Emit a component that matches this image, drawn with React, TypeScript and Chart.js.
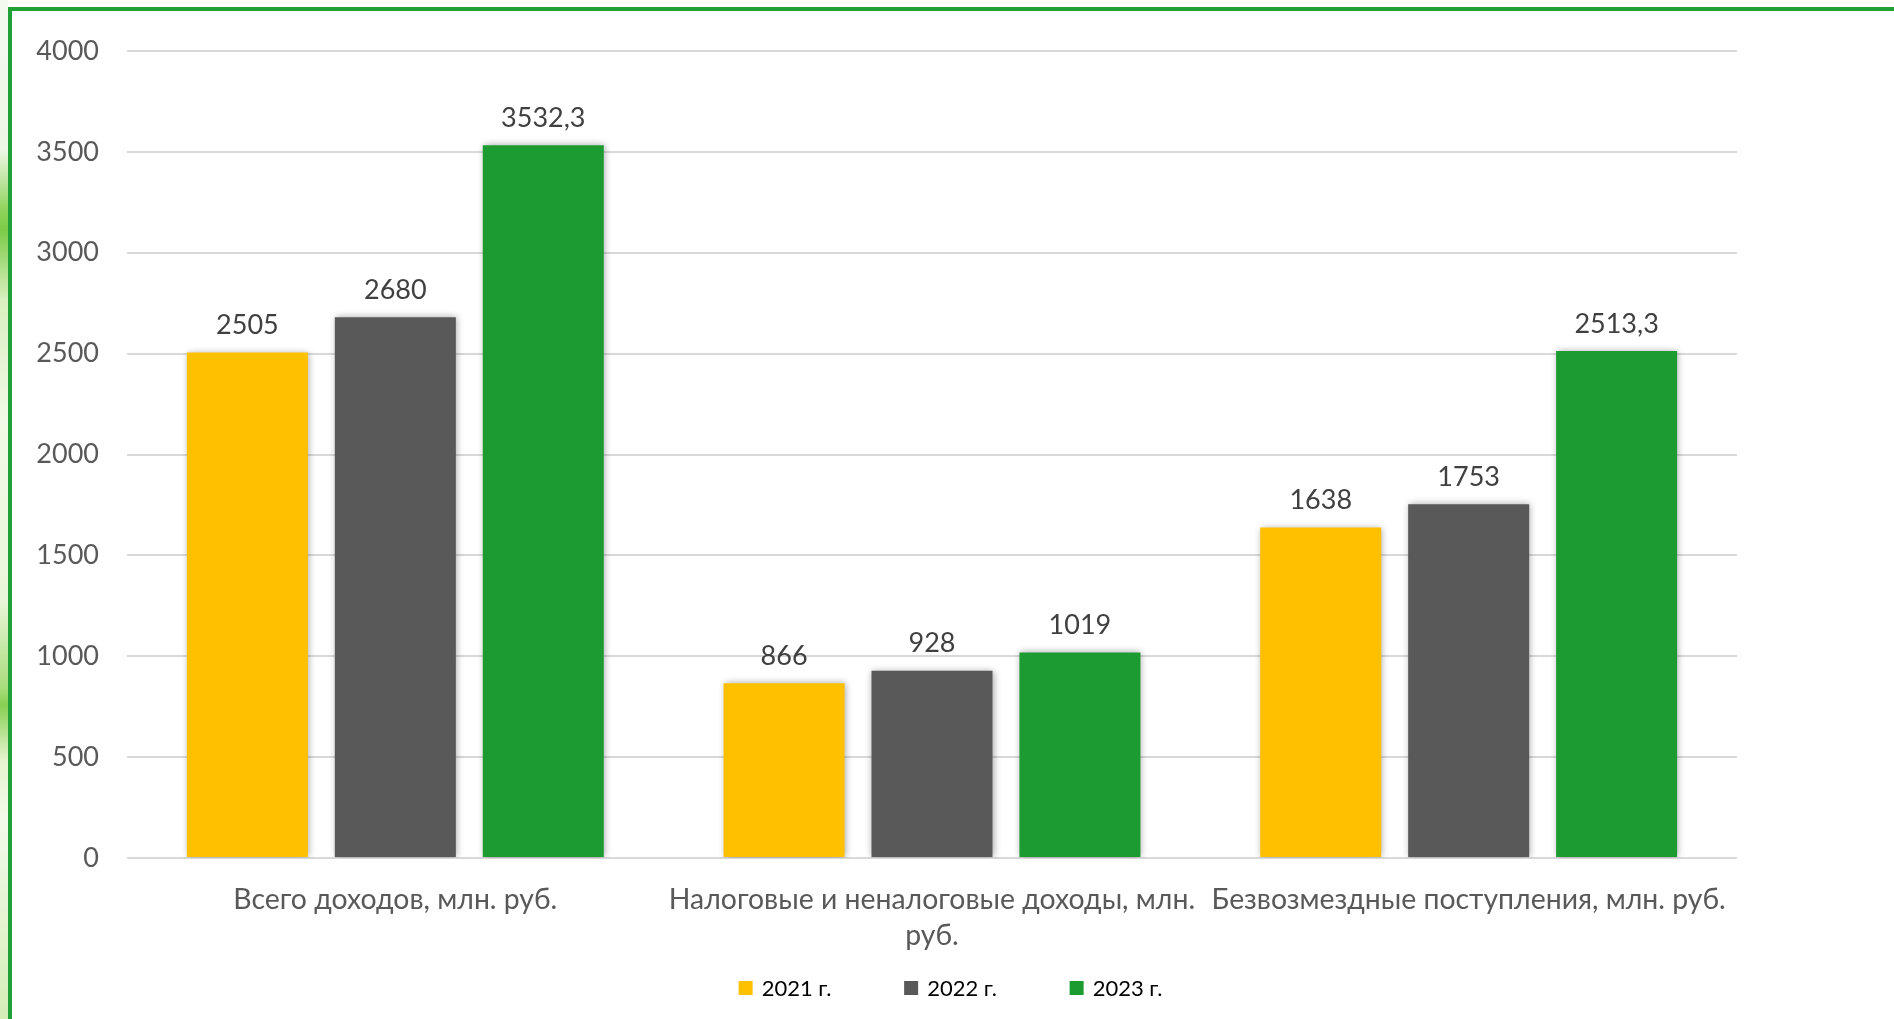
import React, { useEffect, useRef } from "react";
import { Chart, registerables } from "chart.js";

Chart.register(...registerables);

const categories: (string | string[])[] = [
  "Всего доходов, млн. руб.",
  ["Налоговые и неналоговые доходы, млн.", "руб."],
  "Безвозмездные поступления, млн. руб.",
];
const seriesLabels = ["2021 г.", "2022 г.", "2023 г."];
const values2021 = [2505, 866, 1638];
const values2022 = [2680, 928, 1753];
const values2023 = [3532.3, 1019, 2513.3];
const seriesColors = ["#FFC000", "#595959", "#1C9C30"];
const yTicks = [0, 500, 1000, 1500, 2000, 2500, 3000, 3500, 4000];

const FONT = "Lato, 'Open Sans', 'Noto Sans', sans-serif";

const shadowAndLabels = {
  id: "shadowAndLabels",
  beforeDatasetsDraw(chart: any) {
    const ctx = chart.ctx;
    ctx.save();
    ctx.shadowColor = "rgba(0,0,0,0.35)";
    ctx.shadowBlur = 7;
    ctx.shadowOffsetX = 1;
    ctx.shadowOffsetY = 0;
  },
  afterDatasetsDraw(chart: any) {
    const ctx = chart.ctx;
    ctx.restore();
    ctx.save();
    ctx.font = `27px ${FONT}`;
    ctx.fillStyle = "#404040";
    ctx.textAlign = "center";
    ctx.textBaseline = "middle";
    chart.data.datasets.forEach((ds: any, di: number) => {
      const meta = chart.getDatasetMeta(di);
      meta.data.forEach((bar: any, i: number) => {
        const txt = String(ds.data[i]).replace(".", ",");
        ctx.fillText(txt, bar.x, bar.y - 27);
      });
    });
    ctx.restore();
  },
  afterDraw(chart: any) {
    const ctx = chart.ctx;
    ctx.save();
    ctx.font = `22px ${FONT}`;
    ctx.textBaseline = "middle";
    ctx.textAlign = "left";
    const box = 14;
    const gap = 9;
    const pitch = 165.5;
    const items = chart.data.datasets.map((ds: any) => ({
      label: ds.label,
      color: ds.backgroundColor,
    }));
    const lastW = ctx.measureText(items[items.length - 1].label).width;
    const total = pitch * (items.length - 1) + box + gap + lastW;
    const startX = 950.5 - total / 2;
    const cy = 988;
    items.forEach((it: any, i: number) => {
      const x = startX + i * pitch;
      ctx.fillStyle = it.color;
      ctx.fillRect(x, cy - box / 2, box, box);
      ctx.fillStyle = "#000000";
      ctx.fillText(it.label, x + box + gap, cy + 1);
    });
    ctx.restore();
  },
};

export default function App() {
  const ref = useRef<HTMLCanvasElement | null>(null);

  useEffect(() => {
    if (!ref.current) return;
    const chart = new Chart(ref.current, {
      type: "bar",
      data: {
        labels: categories,
        datasets: [
          { label: seriesLabels[0], data: values2021, backgroundColor: seriesColors[0] },
          { label: seriesLabels[1], data: values2022, backgroundColor: seriesColors[1] },
          { label: seriesLabels[2], data: values2023, backgroundColor: seriesColors[2] },
        ],
      },
      options: {
        responsive: false,
        animation: false,
        devicePixelRatio: 1,
        layout: { padding: { top: 51, right: 157, bottom: 51, left: 0 } },
        datasets: {
          bar: { categoryPercentage: 0.827, barPercentage: 0.818, borderWidth: 0 },
        },
        plugins: {
          legend: { display: false },
          tooltip: { enabled: false },
        },
        scales: {
          x: {
            grid: { display: false, drawTicks: false },
            border: { display: false },
            ticks: {
              font: { family: FONT, size: 28.4, lineHeight: 1.27 },
              color: "#595959",
              padding: 24,
              maxRotation: 0,
              autoSkip: false,
            },
            afterFit(scale: any) {
              scale.height = 110;
            },
          },
          y: {
            min: 0,
            max: 4000,
            afterBuildTicks(scale: any) {
              scale.ticks = yTicks.map((v) => ({ value: v }));
            },
            grid: { color: "#D9D9D9", lineWidth: 2, drawTicks: false },
            border: { display: false },
            ticks: {
              font: { family: FONT, size: 27 },
              color: "#595959",
              padding: 28,
              callback: (v: any) => String(v),
            },
            afterFit(scale: any) {
              scale.width = 127;
            },
          },
        },
      },
      plugins: [shadowAndLabels],
    });
    return () => chart.destroy();
  }, []);

  return (
    <div
      style={{
        position: "fixed",
        left: 0,
        top: 0,
        width: 1894,
        height: 1019,
        overflow: "hidden",
        background: "#ffffff",
      }}
    >
      <div
        style={{
          position: "absolute",
          left: 0,
          top: 0,
          width: 8,
          height: 1019,
          background:
            "linear-gradient(180deg, #f4f9f0 0px, #eef7e6 150px, #8fd45c 210px, #7ccb47 230px, #d8f0bf 300px, #f2f9e6 420px, #eaf6da 600px, #a6dc78 690px, #86cf52 705px, #e6f5cf 760px, #f3faea 820px, #d4eeb6 1019px)",
        }}
      />
      <div
        style={{
          position: "absolute",
          left: 8,
          top: 7,
          width: 3000,
          height: 3000,
          border: "4px solid #22A038",
          boxSizing: "border-box",
        }}
      />
      <canvas
        ref={ref}
        width={1894}
        height={1019}
        style={{ position: "absolute", left: 0, top: 0, width: 1894, height: 1019 }}
      />
    </div>
  );
}
